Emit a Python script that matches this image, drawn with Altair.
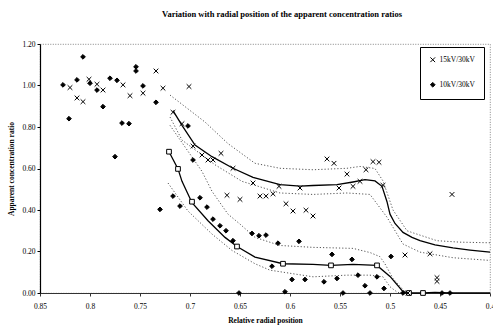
import altair as alt
import pandas as pd

# ---- scatter series ----
s15_x = [0.734, 0.820, 0.801, 0.793, 0.787, 0.767, 0.760, 0.747, 0.727, 0.701, 0.813, 0.807,
         0.717, 0.708, 0.697, 0.688, 0.682, 0.677, 0.669, 0.657, 0.637, 0.611, 0.590, 0.563,
         0.556, 0.551, 0.543, 0.537, 0.530, 0.524, 0.517, 0.511, 0.663, 0.650, 0.630, 0.624,
         0.617, 0.604, 0.597, 0.584, 0.577, 0.507, 0.438, 0.485, 0.460, 0.453, 0.453, 0.482]
s15_y = [1.070, 0.990, 1.030, 1.006, 0.978, 1.003, 0.951, 0.963, 0.987, 0.995, 0.940, 0.922,
         0.871, 0.816, 0.708, 0.665, 0.641, 0.641, 0.673, 0.601, 0.530, 0.514, 0.506, 0.646,
         0.625, 0.506, 0.573, 0.514, 0.538, 0.594, 0.633, 0.630, 0.471, 0.451, 0.467, 0.467,
         0.478, 0.430, 0.395, 0.399, 0.371, 0.519, 0.475, 0.183, 0.189, 0.074, 0.056, 0.000]

s10_x = [0.807, 0.754, 0.754, 0.827, 0.813, 0.800, 0.793, 0.780, 0.773, 0.747, 0.734, 0.787,
         0.821, 0.768, 0.761, 0.775, 0.702, 0.697, 0.717, 0.690, 0.730, 0.710, 0.683, 0.677,
         0.670, 0.664, 0.657, 0.638, 0.631, 0.624, 0.612, 0.591, 0.618, 0.558, 0.538, 0.532,
         0.525, 0.598, 0.585, 0.566, 0.553, 0.605, 0.651, 0.547, 0.520, 0.499, 0.513, 0.506,
         0.487, 0.448, 0.440]
s10_y = [1.138, 1.090, 1.070, 1.003, 1.027, 1.011, 0.978, 1.035, 1.025, 0.998, 0.919, 0.898,
         0.840, 0.819, 0.816, 0.657, 0.805, 0.641, 0.467, 0.459, 0.403, 0.419, 0.414, 0.356,
         0.324, 0.300, 0.252, 0.287, 0.276, 0.279, 0.240, 0.249, 0.129, 0.186, 0.162, 0.086,
         0.035, 0.065, 0.065, 0.054, 0.070, 0.006, 0.000, 0.000, 0.000, 0.176, 0.078, 0.022,
         0.000, 0.000, 0.000]

# ---- fitted curves (solid) ----
fit15_x = [0.717, 0.708, 0.695, 0.678, 0.657, 0.637, 0.610, 0.590, 0.577, 0.553, 0.537, 0.525,
           0.515, 0.508, 0.503, 0.500, 0.495, 0.487, 0.478, 0.470, 0.455, 0.437, 0.420, 0.400]
fit15_y = [0.879, 0.808, 0.713, 0.657, 0.601, 0.557, 0.522, 0.515, 0.518, 0.522, 0.535, 0.546,
           0.540, 0.514, 0.440, 0.380, 0.335, 0.292, 0.268, 0.252, 0.232, 0.217, 0.207, 0.197]

fit10_x = [0.721, 0.712, 0.708, 0.698, 0.682, 0.665, 0.653, 0.635, 0.607, 0.577, 0.559, 0.537,
           0.513, 0.500, 0.487, 0.481, 0.467, 0.455, 0.440, 0.420, 0.400]
fit10_y = [0.681, 0.598, 0.538, 0.435, 0.348, 0.268, 0.224, 0.173, 0.141, 0.138, 0.133, 0.138,
           0.133, 0.080, 0.006, 0.000, 0.000, 0.003, 0.000, 0.000, 0.000]

# squares on the lower fit
sq_x = [0.721, 0.712, 0.698, 0.653, 0.607, 0.559, 0.513, 0.481, 0.467]
sq_y = [0.681, 0.598, 0.440, 0.224, 0.141, 0.133, 0.133, 0.000, 0.000]

# ---- dotted bands ----
b15u_x = [0.720, 0.685, 0.662, 0.635, 0.610, 0.577, 0.543, 0.530, 0.515, 0.507, 0.497, 0.483,
          0.477, 0.453, 0.430, 0.400]
b15u_y = [0.954, 0.824, 0.720, 0.625, 0.601, 0.594, 0.601, 0.610, 0.600, 0.540, 0.400, 0.300,
          0.290, 0.252, 0.245, 0.242]
b15l_x = [0.720, 0.708, 0.675, 0.648, 0.637, 0.610, 0.577, 0.543, 0.520, 0.503, 0.487, 0.470,
          0.437, 0.400]
b15l_y = [0.848, 0.737, 0.618, 0.538, 0.522, 0.482, 0.475, 0.482, 0.475, 0.365, 0.236, 0.197,
          0.170, 0.157]
b10u_x = [0.720, 0.688, 0.678, 0.662, 0.650, 0.635, 0.610, 0.577, 0.537, 0.520, 0.510, 0.505,
          0.497, 0.485, 0.480]
b10u_y = [0.808, 0.586, 0.490, 0.380, 0.332, 0.268, 0.229, 0.220, 0.215, 0.195, 0.175, 0.140,
          0.070, 0.005, 0.000]
b10l_x = [0.722, 0.702, 0.678, 0.658, 0.635, 0.620, 0.577, 0.543, 0.520, 0.507, 0.500, 0.493,
          0.490]
b10l_y = [0.530, 0.395, 0.284, 0.205, 0.141, 0.110, 0.078, 0.086, 0.086, 0.078, 0.030, 0.005,
          0.000]

y_ticks = [0.0, 0.2, 0.4, 0.6, 0.8, 1.0, 1.2]
x_ticks = [0.85, 0.8, 0.75, 0.7, 0.65, 0.6, 0.55, 0.5, 0.45, 0.4]
series_names = ["15kV/30kV", "10kV/30kV"]

# ---- tables ----
pts = pd.concat([
    pd.DataFrame({"x": s15_x, "y": s15_y, "s": series_names[0]}),
    pd.DataFrame({"x": s10_x, "y": s10_y, "s": series_names[1]}),
])

def curve(xs, ys, name):
    return pd.DataFrame({"x": xs, "y": ys, "c": name, "i": range(len(xs))})

fits = pd.concat([curve(fit15_x, fit15_y, "f15"), curve(fit10_x, fit10_y, "f10")])
bands = pd.concat([curve(b15u_x, b15u_y, "b15u"), curve(b15l_x, b15l_y, "b15l"),
                   curve(b10u_x, b10u_y, "b10u"), curve(b10l_x, b10l_y, "b10l")])
squares = pd.DataFrame({"x": sq_x, "y": sq_y})

FONT = "Liberation Serif"

xs = alt.X("x:Q", scale=alt.Scale(domain=[0.4, 0.85], reverse=True, nice=False, zero=False),
           axis=alt.Axis(values=x_ticks, format="~g", title="Relative radial position",
                         grid=False, tickSize=3, labelPadding=6, titlePadding=7,
                         domainColor="#333", tickColor="#333", labelFlush=False,
                         labelFont=FONT, labelFontSize=7.5, labelColor="black",
                         titleFont=FONT, titleFontSize=7.5, titleFontWeight="bold",
                         titleColor="black", domainWidth=1.2))
ys = alt.Y("y:Q", scale=alt.Scale(domain=[0, 1.2], nice=False),
           axis=alt.Axis(values=y_ticks, format=".2f", title="Apparent concentration ratio",
                         grid=False, tickSize=3, labelPadding=2, titlePadding=6,
                         domainColor="black", tickColor="black",
                         labelFont=FONT, labelFontSize=7.5, labelColor="black",
                         titleFont=FONT, titleFontSize=7.5, titleFontWeight="bold",
                         titleColor="black", domainWidth=1.2))

band_layer = alt.Chart(bands).mark_line(color="#555", strokeWidth=1, strokeDash=[1.2, 2]).encode(
    x=xs, y=ys, detail="c:N", order="i:Q")
fit_layer = alt.Chart(fits).mark_line(color="black", strokeWidth=1.3).encode(
    x=xs, y=ys, detail="c:N", order="i:Q")
sq_layer = alt.Chart(squares).mark_point(shape="square", size=22, stroke="black", strokeWidth=1,
                                         fill="white", filled=True, opacity=1).encode(x=xs, y=ys)

leg = alt.Legend(title=None, orient="none", legendX=380, legendY=3,
                 strokeColor="black", fillColor="white", padding=9,
                 rowPadding=15, labelFont=FONT, labelFontSize=7.5, labelColor="black",
                 symbolSize=22, symbolStrokeWidth=1, labelOffset=3)
pt_layer = alt.Chart(pts).mark_point(stroke="black", strokeWidth=1, opacity=1, size=22).encode(
    x=xs, y=ys,
    shape=alt.Shape("s:N", scale=alt.Scale(domain=series_names,
                                           range=["M-1,-1L1,1M-1,1L1,-1", "diamond"]),
                    legend=leg),
    fill=alt.Fill("s:N", scale=alt.Scale(domain=series_names, range=["transparent", "black"]),
                  legend=leg),
)

chart = alt.layer(band_layer, fit_layer, sq_layer, pt_layer).properties(
    width=450, height=249,
    background="white",
    title=alt.TitleParams("Variation with radial position of the apparent concentration ratios",
                          font=FONT, fontSize=8.5, fontWeight="bold", offset=22, dx=17,
                          anchor="middle", color="black"),
    autosize=alt.AutoSizeParams(type="none"),
    padding={"left": 40, "top": 44, "right": 3, "bottom": 36},
).configure_view(stroke="#666", strokeDash=[1, 1.5], strokeWidth=0.8)

chart.save("out.html", embed_options={"renderer": "svg", "actions": False})
